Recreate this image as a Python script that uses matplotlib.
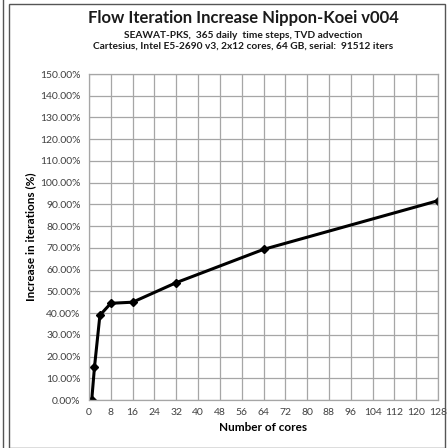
import numpy as np
import matplotlib.pyplot as plt
from matplotlib.patches import Rectangle
from matplotlib.lines import Line2D
from matplotlib.ticker import FuncFormatter

# data
cores = [1, 2, 4, 8, 16, 32, 64, 128]
increase = [0.0, 15.0, 39.0, 44.5, 45.0, 54.0, 69.3, 91.7]

x_ticks = list(range(0, 129, 8))
y_ticks = list(range(0, 151, 10))

plt.rcParams['font.family'] = ['Lato', 'DejaVu Sans']

fig = plt.figure(figsize=(4.47, 4.48), dpi=100)

# chart frame like the spreadsheet border
fig.patches.append(Rectangle((9 / 447, 0.0), 436 / 447, 444 / 448, transform=fig.transFigure,
                             fill=False, edgecolor='#555555', linewidth=1.0))
fig.lines.append(Line2D([3 / 447, 3 / 447], [0, 1], transform=fig.transFigure,
                        color='#555555', linewidth=1.0))

ax = fig.add_axes([89 / 447, 1 - 400 / 448, 349 / 447, 326 / 448])
ax.plot(cores, increase, color='black', linewidth=2.2, marker='D', markersize=4)

ax.set_xlim(0, 128)
ax.set_ylim(0, 150)
ax.set_xticks(x_ticks)
ax.set_yticks(y_ticks)
ax.yaxis.set_major_formatter(FuncFormatter(lambda v, p: '%.2f%%' % v))
ax.grid(True, color='#a6a6a6', linewidth=0.9)
ax.set_axisbelow(True)
for s in ax.spines.values():
    s.set_color('#a6a6a6')
    s.set_linewidth(0.9)
ax.tick_params(length=0, labelsize=7.5, colors='#404040', pad=6)

ax.set_xlabel('Number of cores', fontsize=8.5, fontweight='bold', labelpad=3)
ax.set_ylabel('Increase in iterations (%)', fontsize=8.5, fontweight='bold', labelpad=3)

fig.text(0.545, 1 - 18 / 448, 'Flow Iteration Increase Nippon-Koei v004', ha='center', va='center',
         fontsize=12, fontweight='bold', color='#1a1a1a')
fig.text(0.545, 1 - 35 / 448, 'SEAWAT-PKS,  365 daily  time steps, TVD advection', ha='center',
         va='center', fontsize=7.3, fontweight='bold', color='#1a1a1a')
fig.text(0.545, 1 - 46 / 448, 'Cartesius, Intel E5-2690 v3, 2x12 cores, 64 GB, serial:  91512 iters',
         ha='center', va='center', fontsize=7.3, fontweight='bold', color='#1a1a1a')

fig.savefig('out.png', dpi=100)
